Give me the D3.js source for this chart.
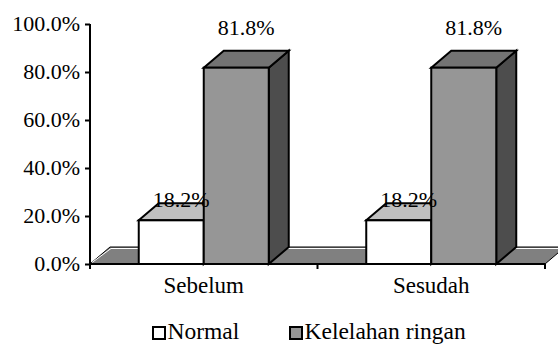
<!DOCTYPE html>
<html>
<head>
<meta charset="utf-8">
<script src="https://cdn.jsdelivr.net/npm/d3@7"></script>
<style>
  html, body { margin: 0; padding: 0; background: #fff; }
  svg { display: block; }
  svg text { font-family: "Liberation Serif", Tinos, "Times New Roman", Times, "DejaVu Serif", serif !important; fill: #000; }
</style>
</head>
<body>
<svg id="chart" width="558" height="345"></svg>
<script>
// Categories, series and values
const categories = ["Sebelum", "Sesudah"];
const seriesNames = ["Normal", "Kelelahan ringan"];
const normalValues = [0.182, 0.182];
const ringanValues = [0.818, 0.818];
const yTicks = [0, 0.2, 0.4, 0.6, 0.8, 1.0];

// Face colours per series: front, top, side
const faceColors = [
  { front: "#ffffff", top: "#c0c0c0", side: "#808080" },
  { front: "#969696", top: "#737373", side: "#4d4d4d" }
];

const plotLeft = 90, plotRight = 545, plotTop = 24, plotBottom = 264;
const depth = { dx: 20, dy: -17 };
const fontSize = 22;
const serif = '"Liberation Serif", Tinos, "Times New Roman", Times, "DejaVu Serif", serif';

const svg = d3.select("#chart");

const y = d3.scaleLinear().domain([0, 1]).range([plotBottom, plotTop]);
const x0 = d3.scaleBand().domain(categories).range([plotLeft, plotRight]).padding(0);
const gapRatio = 1.5; // gap between clusters relative to one bar
const barW = x0.bandwidth() / (seriesNames.length + gapRatio);
const x1 = d3.scaleBand().domain(seriesNames)
  .range([barW * gapRatio / 2, barW * gapRatio / 2 + barW * seriesNames.length])
  .padding(0);

const fmt = d3.format(".1%");
const pts = a => a.map(p => p.join(",")).join(" ");

// Floor of the 3D plot
svg.append("polygon")
  .attr("points", pts([
    [plotLeft, plotBottom], [plotRight, plotBottom],
    [plotRight + depth.dx, plotBottom + depth.dy], [plotLeft + depth.dx, plotBottom + depth.dy]
  ]))
  .attr("fill", "#808080").attr("stroke", "#000").attr("stroke-width", 1);
svg.append("polyline")
  .attr("points", pts([[plotLeft + 2, plotBottom - 1.5], [plotLeft + depth.dx + 1, plotBottom + depth.dy + 1.5],
    [plotRight + depth.dx, plotBottom + depth.dy + 1.5]]))
  .attr("fill", "none").attr("stroke", "#fff").attr("stroke-width", 1);

// Bars as 3D boxes
const rows = [];
categories.forEach((c, i) => {
  rows.push({ cat: c, s: 0, name: seriesNames[0], v: normalValues[i] });
  rows.push({ cat: c, s: 1, name: seriesNames[1], v: ringanValues[i] });
});

const gBars = svg.append("g");
rows.forEach(d => {
  const x = x0(d.cat) + x1(d.name);
  const yTop = y(d.v);
  const col = faceColors[d.s];
  const g = gBars.append("g").attr("stroke", "#000").attr("stroke-width", 2).attr("stroke-linejoin", "miter");
  g.append("polygon").attr("fill", col.side)
    .attr("points", pts([[x + barW, plotBottom], [x + barW + depth.dx, plotBottom + depth.dy],
      [x + barW + depth.dx, yTop + depth.dy], [x + barW, yTop]]));
  g.append("polygon").attr("fill", col.top)
    .attr("points", pts([[x, yTop], [x + depth.dx, yTop + depth.dy],
      [x + barW + depth.dx, yTop + depth.dy], [x + barW, yTop]]));
  g.append("rect").attr("fill", col.front)
    .attr("x", x).attr("y", yTop).attr("width", barW).attr("height", plotBottom - yTop);
});

// Value labels
const labelOffset = [13, 33];
rows.forEach(d => {
  const x = x0(d.cat) + x1(d.name) + barW / 2 + depth.dx / 2;
  svg.append("text")
    .attr("x", x).attr("y", y(d.v) - labelOffset[d.s])
    .attr("text-anchor", "middle").attr("font-size", fontSize).attr("font-family", serif)
    .text(fmt(d.v));
});

// Axes
const yAxis = d3.axisLeft(y).tickValues(yTicks).tickFormat(fmt).tickSize(5).tickPadding(5);
const gy = svg.append("g").attr("transform", `translate(${plotLeft},0)`).call(yAxis)
  .attr("font-family", serif).attr("font-size", fontSize);
gy.select(".domain").attr("stroke", "#000").attr("stroke-width", 2).attr("d", `M0,${plotTop}V${plotBottom}`);
gy.selectAll(".tick line").attr("stroke", "#000").attr("stroke-width", 2);
gy.selectAll(".tick text").attr("fill", "#000").attr("dy", "0.3em");

const xAxis = d3.axisBottom(x0).tickSize(0).tickPadding(13);
const gx = svg.append("g").attr("transform", `translate(0,${plotBottom})`).call(xAxis)
  .attr("font-family", serif).attr("font-size", 23);
gx.select(".domain").attr("stroke", "#000").attr("stroke-width", 2).attr("d", `M${plotLeft},0H${plotRight}`);
gx.selectAll(".tick text").attr("fill", "#000").attr("dy", "0.71em");
const bounds = [plotLeft].concat(categories.map(c => x0(c) + x0.bandwidth()));
gx.selectAll(".bound").data(bounds).enter().append("line")
  .attr("x1", d => d).attr("x2", d => d).attr("y1", 0).attr("y2", 5)
  .attr("stroke", "#000").attr("stroke-width", 2);

// Legend
const legend = svg.append("g").attr("transform", "translate(153,327)")
  .attr("font-family", serif).attr("font-size", 23.5);
const legendX = [0, 137];
seriesNames.forEach((n, i) => {
  const g = legend.append("g").attr("transform", `translate(${legendX[i]},0)`);
  g.append("rect").attr("x", 0).attr("y", 0).attr("width", 12).attr("height", 12)
    .attr("fill", faceColors[i].front).attr("stroke", "#000").attr("stroke-width", 2);
  g.append("text").attr("x", 14.5).attr("y", 11.5).text(n);
});
</script>
</body>
</html>
